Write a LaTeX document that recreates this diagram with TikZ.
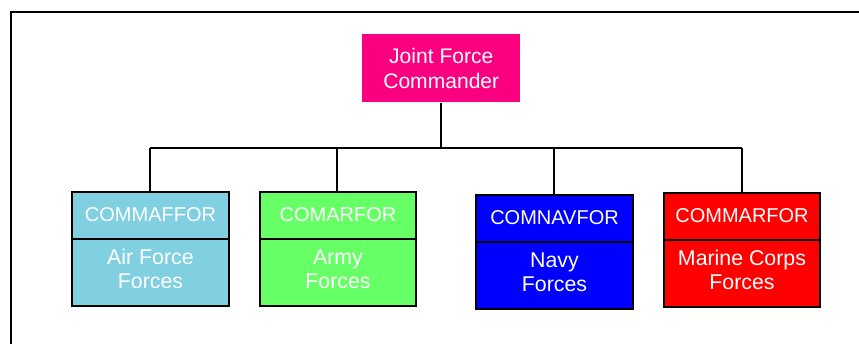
\documentclass[tikz,border=0pt]{standalone}
\usepackage{fontspec}
\setmainfont{Liberation Sans}
\definecolor{jfcpink}{RGB}{250,0,128}
\definecolor{afblue}{RGB}{128,208,226}
\definecolor{armygreen}{RGB}{102,255,102}
\definecolor{navyblue}{RGB}{0,0,255}
\definecolor{marinered}{RGB}{255,0,0}
\begin{document}
\begin{tikzpicture}[x=0.75pt,y=-0.75pt,
  lbl/.style={text=white,font=\fontsize{15}{18}\selectfont,align=center,inner sep=0pt,outer sep=0pt},
  blbl/.style={lbl,font=\fontsize{16}{18}\selectfont},
  headbox/.style={draw=black,line width=1.2pt,minimum width=#1*0.75pt,minimum height=47*0.75pt,anchor=north west,inner sep=0pt,outer sep=0pt},
  bodybox/.style={draw=black,line width=1.2pt,minimum width=#1*0.75pt,minimum height=67*0.75pt,anchor=north west,inner sep=0pt,outer sep=0pt},
  conn/.style={draw=black,line width=1.5pt}]
\useasboundingbox (0,0) rectangle (859,343);
% outer frame
\draw[line width=1.5pt] (11,350) -- (11,12) -- (870,12);
% top node
\node[fill=jfcpink,minimum width=158*0.75pt,minimum height=68*0.75pt,anchor=north west,inner sep=0pt] (jfc) at (362,34) {};
\node[lbl,font=\fontsize{15.8}{18.8}\selectfont] (jfct) at (jfc.center) {Joint Force\\Commander};
% boxes
\node[headbox=157,fill=afblue] (afT) at (72,192) {};
\node[bodybox=157,fill=afblue] (afB) at (72,239) {};
\node[headbox=156,fill=armygreen] (arT) at (260,192) {};
\node[bodybox=156,fill=armygreen] (arB) at (260,239) {};
\node[headbox=157,fill=navyblue] (nvT) at (476,195) {};
\node[bodybox=157,fill=navyblue] (nvB) at (476,242) {};
\node[headbox=156,fill=marinered] (mcT) at (664,193) {};
\node[bodybox=156,fill=marinered] (mcB) at (664,240) {};
% labels
\node[lbl] (afTt) at ([yshift=0.9pt]afT.center) {COMMAFFOR};
\node[blbl] (afBt) at ([yshift=2.6pt]afB.center) {Air Force\\Forces};
\node[lbl] (arTt) at ([yshift=0.9pt]arT.center) {COMARFOR};
\node[blbl] (arBt) at ([yshift=2.6pt]arB.center) {Army\\Forces};
\node[lbl] (nvTt) at ([yshift=0.9pt]nvT.center) {COMNAVFOR};
\node[blbl] (nvBt) at ([yshift=2.6pt]nvB.center) {Navy\\Forces};
\node[lbl] (mcTt) at ([yshift=0.9pt]mcT.center) {COMMARFOR};
\node[blbl] (mcBt) at ([yshift=2.6pt]mcB.center) {Marine Corps\\Forces};
% connectors
\coordinate (bus) at (441,148);
\coordinate (b1) at (150,148);
\coordinate (b2) at (337,148);
\coordinate (b3) at (554,148);
\coordinate (b4) at (742,148);
\draw[conn] (jfc.south -| bus) -- (bus);
\draw[conn] (b1) -- (b4);
\draw[conn] (b1) -- (b1 |- afT.north);
\draw[conn] (b2) -- (b2 |- arT.north);
\draw[conn] (b3) -- (b3 |- nvT.north);
\draw[conn] (b4) -- (b4 |- mcT.north);
\end{tikzpicture}
\end{document}
